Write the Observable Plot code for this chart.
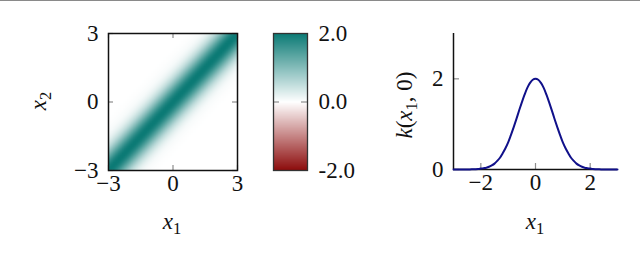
<!DOCTYPE html>
<html><head><meta charset="utf-8">
<script src="https://cdn.jsdelivr.net/npm/d3@7"></script>
<script src="https://cdn.jsdelivr.net/npm/@observablehq/plot@0.6"></script>
<style>
body{margin:0;background:#fff;font-family:'Liberation Serif';}
#wrap{position:relative;width:640px;height:258px;overflow:hidden;background:#fff;}
#wrap svg{position:absolute;top:0;}
#rule{position:absolute;left:0;top:0;width:640px;height:1px;background:#8a8a8a;}
</style></head><body><div id="wrap"><div id="rule"></div></div>
<script>
// kernel profile k(d), d = |x1 - x2|
const dist = [0,0.1,0.2,0.3,0.4,0.5,0.6,0.7,0.8,0.9,1.0,1.1,1.2,1.3,1.4,1.5,1.6,1.7,1.8,1.9,2.0,2.1,2.2,2.3,2.4,2.5,2.6,2.7,2.8,2.9,3.0];
const kVals = [2.00,1.98,1.91,1.80,1.65,1.48,1.30,1.11,0.93,0.76,0.60,0.47,0.36,0.26,0.19,0.13,0.09,0.06,0.04,0.03,0.02,0.01,0.006,0.004,0.002,0.001,0,0,0,0,0];
const gridTicks = [-3, 0, 3];
const barTicks = [-2, 0, 2];
const lineXTicks = [-2, 0, 2];
const lineYTicks = [0, 2];

const teal = "#0b7a75", red = "#8c0b0b", navy = "#10108a", tickGray = "#8c8c8c";
const font = "Liberation Serif";
const fs = 23;

// heatmap grid: 60x60 cells of 0.1, value = k(|x1-x2|)
const N = 60;
const grid = [];
for (let r = 0; r < N; r++) for (let c = 0; c < N; c++) grid.push(kVals[Math.abs(r - c)] ?? 0);

const color = {type: "linear", domain: [-2, 0, 2], range: [red, "#ffffff", teal], clamp: true};
const wrap = document.getElementById("wrap");

function sub(svg, x, y, parts, rotate) {
  const t = d3.select(svg).append("text")
    .attr("font-family", font).attr("font-size", fs).attr("fill", "#111")
    .attr("text-anchor", "middle")
    .attr("transform", `translate(${x},${y})` + (rotate ? " rotate(-90)" : ""));
  for (const p of parts) {
    const s = t.append("tspan").text(p.t);
    if (p.i) s.attr("font-style", "italic");
    if (p.sub) s.attr("font-size", fs * 0.72).attr("dy", 5);
    if (p.up) s.attr("dy", -5);
  }
}

const baseStyle = {fontFamily: font, fontSize: fs + "px", background: "transparent", overflow: "visible"};

// ---- heatmap ----
{
  const W = 260, H = 258, mt = 33, mb = 88, ml = 108, mr = 23;
  const ih = H - mt - mb, iw = W - ml - mr;
  const p = Plot.plot({
    width: W, height: H, marginTop: mt, marginBottom: mb, marginLeft: ml, marginRight: mr,
    style: baseStyle,
    x: {domain: [-3, 3]}, y: {domain: [-3, 3]},
    color,
    marks: [
      Plot.raster(grid, {width: N, height: N, x1: -3, x2: 3, y1: -3, y2: 3, fill: d => d, imageRendering: "auto"}),
      Plot.tickX(gridTicks, {x: d => d, stroke: tickGray, strokeWidth: 1.2, insetBottom: ih - 5}),
      Plot.tickX(gridTicks, {x: d => d, stroke: tickGray, strokeWidth: 1.2, insetTop: ih - 5}),
      Plot.tickY(gridTicks, {y: d => d, stroke: tickGray, strokeWidth: 1.2, insetRight: iw - 5}),
      Plot.tickY(gridTicks, {y: d => d, stroke: tickGray, strokeWidth: 1.2, insetLeft: iw - 5}),
      Plot.frame({stroke: "#111", strokeWidth: 1.5}),
      Plot.axisX(gridTicks, {tickSize: 0, tickPadding: 4, fontSize: fs, fontFamily: font, label: null, fill: "#111"}),
      Plot.axisY(gridTicks, {tickSize: 0, tickPadding: 10, fontSize: fs, fontFamily: font, label: null, fill: "#111"})
    ]
  });
  p.style.left = "0px";
  wrap.appendChild(p);
  sub(p, 172, 229, [{t: "x", i: true}, {t: "1", sub: true}]);
  sub(p, 46, 101, [{t: "x", i: true}, {t: "2", sub: true}], true);
}

// ---- colorbar ----
{
  const W = 120, H = 258, mt = 33, mb = 88, ml = 13, mr = 73;
  const iw = W - ml - mr;
  const p = Plot.plot({
    width: W, height: H, marginTop: mt, marginBottom: mb, marginLeft: ml, marginRight: mr,
    style: baseStyle,
    x: {domain: [0, 1], axis: null}, y: {domain: [-2, 2]},
    color,
    marks: [
      Plot.raster({fill: (x, y) => y, x1: 0, x2: 1, y1: -2, y2: 2}),
      Plot.tickY([0], {y: d => d, stroke: tickGray, strokeWidth: 1.2, insetRight: iw - 6}),
      Plot.tickY([0], {y: d => d, stroke: tickGray, strokeWidth: 1.2, insetLeft: iw - 6}),
      Plot.frame({stroke: "#333", strokeWidth: 1.3}),
      Plot.axisY(barTicks, {anchor: "right", tickSize: 0, tickPadding: 11, fontSize: fs, fontFamily: font, label: null, fill: "#111", tickFormat: d => d.toFixed(1)})
    ]
  });
  p.style.left = "260px";
  wrap.appendChild(p);
}

// ---- kernel slice ----
{
  const W = 260, H = 258, mt = 33, mb = 89, ml = 73, mr = 23;
  const ih = H - mt - mb, iw = W - ml - mr;
  const line = [];
  for (let i = dist.length - 1; i > 0; i--) line.push({x: -dist[i], k: kVals[i]});
  for (let i = 0; i < dist.length; i++) line.push({x: dist[i], k: kVals[i]});
  const p = Plot.plot({
    width: W, height: H, marginTop: mt, marginBottom: mb, marginLeft: ml, marginRight: mr,
    style: baseStyle,
    x: {domain: [-3, 3]}, y: {domain: [0, 3]},
    marks: [
      Plot.tickX(lineXTicks, {x: d => d, stroke: tickGray, strokeWidth: 1.2, insetTop: ih - 6}),
      Plot.tickY(lineYTicks, {y: d => d, stroke: tickGray, strokeWidth: 1.2, insetRight: iw - 6}),
      Plot.ruleX([-3], {stroke: "#111", strokeWidth: 1.5}),
      Plot.ruleY([0], {stroke: "#111", strokeWidth: 1.5}),
      Plot.line(line, {x: "x", y: "k", stroke: navy, strokeWidth: 2, curve: "catmull-rom"}),
      Plot.axisX(lineXTicks, {tickSize: 0, tickPadding: 4, fontSize: fs, fontFamily: font, label: null, fill: "#111"}),
      Plot.axisY(lineYTicks, {tickSize: 0, tickPadding: 10, fontSize: fs, fontFamily: font, label: null, fill: "#111"})
    ]
  });
  p.style.left = "380px";
  wrap.appendChild(p);
  sub(p, 155, 229, [{t: "x", i: true}, {t: "1", sub: true}]);
  sub(p, 32, 105, [{t: "k", i: true}, {t: "("}, {t: "x", i: true}, {t: "1", sub: true}, {t: ", 0)", up: true}], true);
}
</script></body></html>
